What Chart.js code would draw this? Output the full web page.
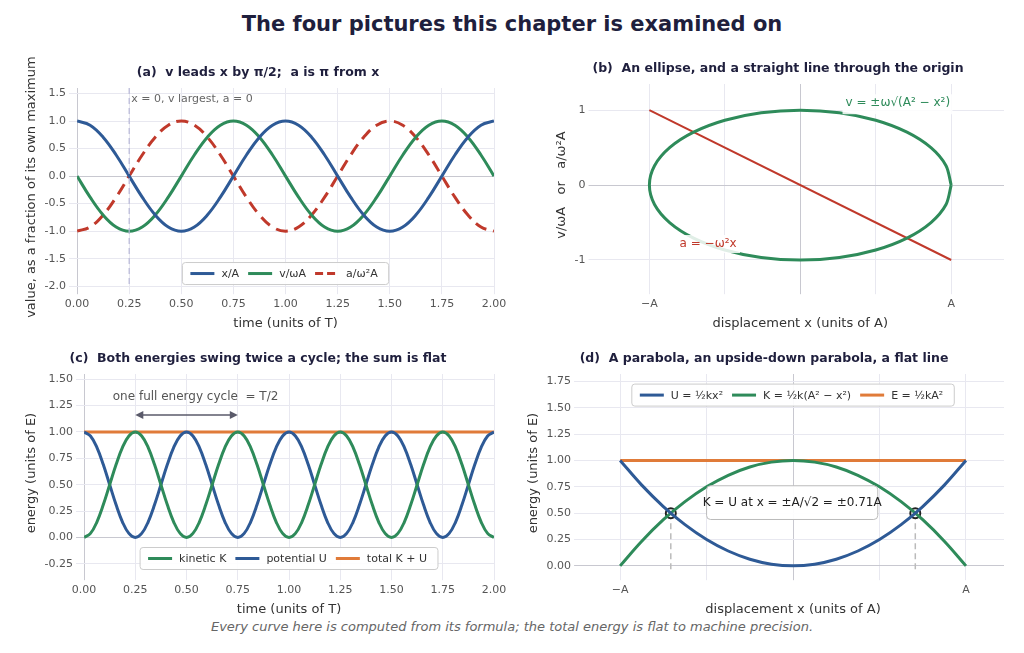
<!DOCTYPE html>
<html><head><meta charset="utf-8">
<script src="https://cdn.jsdelivr.net/npm/chart.js@4"></script>
<style>
body{margin:0;width:1024px;height:653px;background:#fff;font-family:"DejaVu Sans",sans-serif;position:relative;overflow:hidden}
#title{position:absolute;top:12px;width:1024px;text-align:center;font-weight:bold;font-size:21px;color:#1f1f3d}
#foot{position:absolute;top:619px;width:1024px;text-align:center;font-style:italic;font-size:13px;color:#666}
canvas{position:absolute}
</style></head><body>
<div id="title">The four pictures this chapter is examined on</div>
<div id="foot">Every curve here is computed from its formula; the total energy is flat to machine precision.</div>
<canvas id="ca" width="512" height="278" style="left:0;top:55px"></canvas>
<canvas id="cb" width="512" height="278" style="left:512px;top:55px"></canvas>
<canvas id="cc" width="512" height="279" style="left:0;top:340px"></canvas>
<canvas id="cd" width="512" height="279" style="left:512px;top:340px"></canvas>
<script>
// ---- data ----
const xOverA=[1,.924,.707,.383,0,-.383,-.707,-.924,-1,-.924,-.707,-.383,0,.383,.707,.924,1,.924,.707,.383,0,-.383,-.707,-.924,-1,-.924,-.707,-.383,0,.383,.707,.924,1];
const vOverWA=[0,-.383,-.707,-.924,-1,-.924,-.707,-.383,0,.383,.707,.924,1,.924,.707,.383,0,-.383,-.707,-.924,-1,-.924,-.707,-.383,0,.383,.707,.924,1,.924,.707,.383,0];
const aOverW2A=[-1,-.924,-.707,-.383,0,.383,.707,.924,1,.924,.707,.383,0,-.383,-.707,-.924,-1,-.924,-.707,-.383,0,.383,.707,.924,1,.924,.707,.383,0,-.383,-.707,-.924,-1];
const ellX=[1,.966,.866,.707,.5,.259,0,-.259,-.5,-.707,-.866,-.966,-1,-.966,-.866,-.707,-.5,-.259,0,.259,.5,.707,.866,.966,1];
const ellY=[0,.259,.5,.707,.866,.966,1,.966,.866,.707,.5,.259,0,-.259,-.5,-.707,-.866,-.966,-1,-.966,-.866,-.707,-.5,-.259,0];
const lineX=[-1,1], lineY=[1,-1];
const Uc=[1,.962,.854,.691,.5,.309,.146,.038,0,.038,.146,.309,.5,.691,.854,.962,1,.962,.854,.691,.5,.309,.146,.038,0,.038,.146,.309,.5,.691,.854,.962,1,.962,.854,.691,.5,.309,.146,.038,0,.038,.146,.309,.5,.691,.854,.962,1,.962,.854,.691,.5,.309,.146,.038,0,.038,.146,.309,.5,.691,.854,.962,1];
const Kc=[0,.038,.146,.309,.5,.691,.854,.962,1,.962,.854,.691,.5,.309,.146,.038,0,.038,.146,.309,.5,.691,.854,.962,1,.962,.854,.691,.5,.309,.146,.038,0,.038,.146,.309,.5,.691,.854,.962,1,.962,.854,.691,.5,.309,.146,.038,0,.038,.146,.309,.5,.691,.854,.962,1,.962,.854,.691,.5,.309,.146,.038,0];
const Ec=[1,1];
const xd=[-1,-.875,-.75,-.625,-.5,-.375,-.25,-.125,0,.125,.25,.375,.5,.625,.75,.875,1];
const Ud=[1,.766,.563,.391,.25,.141,.063,.016,0,.016,.063,.141,.25,.391,.563,.766,1];
const Kd=[0,.234,.438,.609,.75,.859,.938,.984,1,.984,.938,.859,.75,.609,.438,.234,0];
const Ed=[1,1];
const crossX=[-.707,.707], crossY=[.5,.5];

const BLUE='#2e5a96',GREEN='#2e8b5a',RED='#c0392b',ORANGE='#e07b39',DARK='#1f1f3d';
const tA=xOverA.map((_,i)=>i/16), tC=Uc.map((_,i)=>i/32);
const xy=(xs,ys)=>xs.map((x,i)=>({x,y:ys[i]}));
Chart.defaults.font.family='"DejaVu Sans",sans-serif';
Chart.defaults.color='#555';

function grid(){return {color:c=>c.tick&&c.tick.value===0?'#c8c8d0':'#e8e8f0',lineWidth:1};}
function axis(min,max,step,title,cb){return {type:'linear',min,max,border:{display:false},grid:grid(),
  ticks:{stepSize:step,font:{size:11},color:'#555',callback:cb||(v=>v.toFixed(2)),autoSkip:false,includeBounds:false},
  title:{display:true,text:title,font:{size:13},color:'#333',padding:2}};}
function titleOpt(t){return {display:true,text:t,font:{size:12.5,weight:'bold'},color:DARK,padding:{top:4,bottom:8}};}
function legendBox(ctx,items,cx,cy){
  ctx.save();ctx.font='11px "DejaVu Sans"';
  const ws=items.map(it=>ctx.measureText(it[0]).width+40);const W=ws.reduce((a,b)=>a+b,0)+10;
  let x=cx-W/2;ctx.fillStyle='rgba(255,255,255,0.9)';ctx.strokeStyle='#ccc';ctx.lineWidth=1;
  ctx.beginPath();ctx.roundRect(x,cy-11,W,22,3);ctx.fill();ctx.stroke();x+=8;
  items.forEach((it,i)=>{ctx.strokeStyle=it[1];ctx.lineWidth=3;ctx.setLineDash(it[2]||[]);
    ctx.beginPath();ctx.moveTo(x,cy);ctx.lineTo(x+24,cy);ctx.stroke();ctx.setLineDash([]);
    ctx.fillStyle='#333';ctx.textBaseline='middle';ctx.fillText(it[0],x+31,cy+1);x+=ws[i];});
  ctx.restore();}
function ds(data,color,extra){return Object.assign({data,borderColor:color,borderWidth:3,pointRadius:0,tension:0.4,fill:false},extra||{});}
function base(datasets,xs,ys,title,plugin,pad){return {type:'scatter',data:{datasets},
  options:{responsive:false,animation:false,showLine:true,layout:{padding:pad},
  plugins:{legend:{display:false},title:titleOpt(title),tooltip:{enabled:false}},
  scales:{x:xs,y:ys}},plugins:[plugin]};}

// (a)
new Chart(document.getElementById('ca'),base([
  ds(xy(tA,xOverA),BLUE),ds(xy(tA,vOverWA),GREEN),ds(xy(tA,aOverW2A),RED,{borderDash:[12,7]})],
  axis(0,2,0.25,'time (units of T)'),axis(-2,1.6,0.5,'value, as a fraction of its own maximum',v=>v.toFixed(1)),
  '(a)  v leads x by π/2;  a is π from x',
  {id:'a',afterDatasetsDraw(ch){const c=ch.ctx,x=ch.scales.x,y=ch.scales.y,a=ch.chartArea;
    c.save();c.strokeStyle='#b8b8d8';c.lineWidth=1.2;c.setLineDash([6,4]);c.beginPath();
    c.moveTo(x.getPixelForValue(.25),a.top);c.lineTo(x.getPixelForValue(.25),a.bottom);c.stroke();c.setLineDash([]);
    c.fillStyle='#666';c.font='11px "DejaVu Sans"';c.fillText('x = 0, v largest, a = 0',x.getPixelForValue(.25)+2,y.getPixelForValue(1.35));
    c.restore();legendBox(c,[['x/A',BLUE],['v/ωA',GREEN],['a/ω²A',RED,[8,4]]],x.getPixelForValue(1),y.getPixelForValue(-1.77));}},
  {left:22,right:18,top:6,bottom:0}));

// (b)
const labA=v=>v===-1?'−A':v===1?'A':'';
new Chart(document.getElementById('cb'),base([
  ds(xy(ellX,ellY),GREEN,{borderWidth:3,tension:0.3}),ds(xy(lineX,lineY),RED,{tension:0,borderWidth:2})],
  axis(-1.35,1.35,0.5,'displacement x (units of A)',labA),axis(-1.35,1.35,1,'v/ωA   or   a/ω²A',v=>v.toFixed(0)),
  '(b)  An ellipse, and a straight line through the origin',
  {id:'b',afterDatasetsDraw(ch){const c=ch.ctx,x=ch.scales.x,y=ch.scales.y;c.save();c.font='12px "DejaVu Sans"';
    c.fillStyle='rgba(255,255,255,0.85)';c.fillRect(x.getPixelForValue(.28),y.getPixelForValue(1.08)-10,110,20);
    c.fillStyle=GREEN;c.fillText('v = ±ω√(A² − x²)',x.getPixelForValue(.3),y.getPixelForValue(1.05));
    c.fillStyle='rgba(255,255,255,0.85)';c.fillRect(x.getPixelForValue(-.83),y.getPixelForValue(-.8)-10,65,18);
    c.fillStyle=RED;c.fillText('a = −ω²x',x.getPixelForValue(-.8),y.getPixelForValue(-.83));c.restore();}},
  {left:40,right:20,top:2,bottom:0}));

// (c)
new Chart(document.getElementById('cc'),base([
  ds(xy(tC,Kc),GREEN),ds(xy(tC,Uc),BLUE),ds(xy([0,2],Ec),ORANGE,{tension:0,borderWidth:3})],
  axis(0,2,0.25,'time (units of T)'),axis(-0.33,1.55,0.25,'energy (units of E)'),
  '(c)  Both energies swing twice a cycle; the sum is flat',
  {id:'c',afterDatasetsDraw(ch){const c=ch.ctx,x=ch.scales.x,y=ch.scales.y;c.save();
    const x1=x.getPixelForValue(.25),x2=x.getPixelForValue(.75),yy=y.getPixelForValue(1.16);
    c.strokeStyle='#5a5a6a';c.fillStyle='#5a5a6a';c.lineWidth=1.5;c.beginPath();c.moveTo(x1+6,yy);c.lineTo(x2-6,yy);c.stroke();
    [[x1,1],[x2,-1]].forEach(([p,d])=>{c.beginPath();c.moveTo(p,yy);c.lineTo(p+8*d,yy-4);c.lineTo(p+8*d,yy+4);c.closePath();c.fill();});
    c.font='12px "DejaVu Sans"';c.fillStyle='#555';c.fillText('one full energy cycle  = T/2',x.getPixelForValue(.14),y.getPixelForValue(1.3));
    c.restore();legendBox(c,[['kinetic K',GREEN],['potential U',BLUE],['total K + U',ORANGE]],x.getPixelForValue(1),y.getPixelForValue(-.2));}},
  {left:22,right:18,top:7,bottom:0}));

// (d)
new Chart(document.getElementById('cd'),base([
  ds(xy(xd,Ud),BLUE),ds(xy(xd,Kd),GREEN),ds(xy([-1,1],Ed),ORANGE,{tension:0,borderWidth:3}),
  {data:xy(crossX,crossY),showLine:false,pointRadius:5,pointBackgroundColor:'#fff',pointBorderColor:'#222',pointBorderWidth:2}],
  axis(-1.22,1.22,0.5,'displacement x (units of A)',labA),axis(-0.06,1.82,0.25,'energy (units of E)'),
  '(d)  A parabola, an upside-down parabola, a flat line',
  {id:'d',beforeDatasetsDraw(ch){const c=ch.ctx,x=ch.scales.x,y=ch.scales.y;c.save();c.strokeStyle='#bbb';c.lineWidth=1.5;c.setLineDash([6,4]);
    crossX.forEach(v=>{c.beginPath();c.moveTo(x.getPixelForValue(v),y.getPixelForValue(.5));c.lineTo(x.getPixelForValue(v),ch.chartArea.bottom);c.stroke();});c.restore();},
   afterDatasetsDraw(ch){const c=ch.ctx,x=ch.scales.x,y=ch.scales.y;c.save();
    const bx=x.getPixelForValue(-.5),by=y.getPixelForValue(.76),bw=x.getPixelForValue(.49)-bx,bh=y.getPixelForValue(.44)-by;
    c.fillStyle='rgba(255,255,255,0.95)';c.strokeStyle='#bbb';c.beginPath();c.roundRect(bx,by,bw,bh,4);c.fill();c.stroke();
    c.fillStyle='#222';c.font='12px "DejaVu Sans"';c.textAlign='center';c.textBaseline='middle';
    c.fillText('K = U at x = ±A/√2 = ±0.71A',bx+bw/2,by+bh/2);c.restore();
    legendBox(c,[['U = ½kx²',BLUE],['K = ½k(A² − x²)',GREEN],['E = ½kA²',ORANGE]],x.getPixelForValue(0),y.getPixelForValue(1.62));}},
  {left:12,right:20,top:7,bottom:0}));
</script></body></html>
